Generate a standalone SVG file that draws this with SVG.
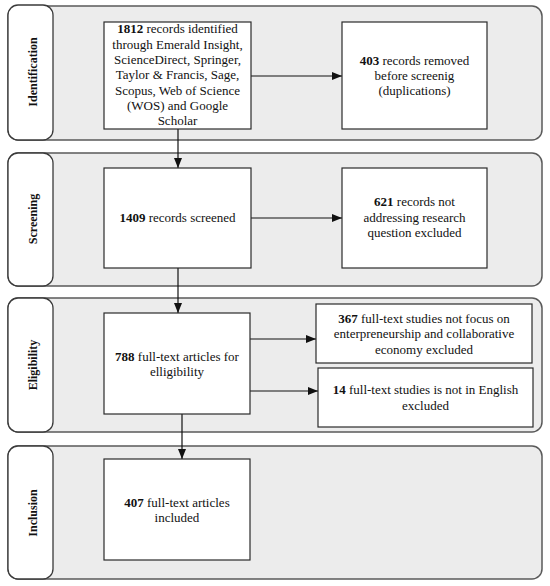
<svg xmlns="http://www.w3.org/2000/svg" width="550" height="586" viewBox="0 0 550 586">
<style>
.band{fill:#ececec;stroke:#5a5a5a;stroke-width:1.5}
.lab{fill:#fff;stroke:#3a3a3a;stroke-width:1.3}
.box{fill:#fff;stroke:#2a2a2a;stroke-width:1.2}
.t{font-size:13px;text-anchor:middle;fill:#111}
.l{font-size:12px;font-weight:bold;text-anchor:middle;fill:#111}
.c{fill:none;stroke:#111;stroke-width:1.2}
</style>
<defs>
<marker id="ah" viewBox="0 0 10 8" refX="10" refY="4" markerWidth="10" markerHeight="8" markerUnits="userSpaceOnUse" orient="auto">
<path d="M0,0 L10,4 L0,8 z" fill="#111"/>
</marker>
</defs>

<g font-family="Liberation Serif, DejaVu Serif, serif">
<g id="band-identification">
<rect class="band" x="8" y="6" width="534" height="134" rx="10"/>
<rect class="lab" x="8" y="5" width="45" height="135" rx="10"/>
<text class="l" transform="translate(37,72) rotate(-90)">Identification</text>
</g>
<g id="band-screening">
<rect class="band" x="8" y="153" width="534" height="133" rx="10"/>
<rect class="lab" x="8" y="153" width="45" height="133" rx="10"/>
<text class="l" transform="translate(37,219) rotate(-90)">Screening</text>
</g>
<g id="band-eligibility">
<rect class="band" x="8" y="298" width="534" height="134" rx="10"/>
<rect class="lab" x="8" y="298" width="45" height="134" rx="10"/>
<text class="l" transform="translate(37,365) rotate(-90)">Eligibility</text>
</g>
<g id="band-inclusion">
<rect class="band" x="8" y="446" width="534" height="133" rx="10"/>
<rect class="lab" x="8" y="446" width="45" height="133" rx="10"/>
<text class="l" transform="translate(37,513) rotate(-90)">Inclusion</text>
</g>

<g id="connectors">
<line class="c" x1="251" y1="76" x2="342" y2="76" marker-end="url(#ah)"/>
<line class="c" x1="178" y1="129" x2="178" y2="168" marker-end="url(#ah)"/>
<line class="c" x1="251" y1="218" x2="342" y2="218" marker-end="url(#ah)"/>
<line class="c" x1="178" y1="268" x2="178" y2="313" marker-end="url(#ah)"/>
<line class="c" x1="250" y1="339" x2="316" y2="339" marker-end="url(#ah)"/>
<line class="c" x1="250" y1="391" x2="318" y2="391" marker-end="url(#ah)"/>
<line class="c" x1="182" y1="414" x2="182" y2="459" marker-end="url(#ah)"/>
</g>

<g id="n1812">
<rect class="box" x="104" y="22" width="147" height="107"/>
<text class="t" x="177.5" y="33"><tspan font-weight="bold">1812</tspan> records identified</text>
<text class="t" x="177.5" y="48.5">through Emerald Insight,</text>
<text class="t" x="177.5" y="64">ScienceDirect, Springer,</text>
<text class="t" x="177.5" y="79">Taylor &amp; Francis, Sage,</text>
<text class="t" x="177.5" y="94.5">Scopus, Web of Science</text>
<text class="t" x="177.5" y="110">(WOS) and Google</text>
<text class="t" x="177.5" y="125">Scholar</text>
</g>
<g id="n403">
<rect class="box" x="342" y="22" width="145" height="107"/>
<text class="t" x="414.5" y="65"><tspan font-weight="bold">403</tspan> records removed</text>
<text class="t" x="414.5" y="80">before screenig</text>
<text class="t" x="414.5" y="95">(duplications)</text>
</g>
<g id="n1409">
<rect class="box" x="104" y="168" width="147" height="100"/>
<text class="t" x="177.5" y="222"><tspan font-weight="bold">1409</tspan> records screened</text>
</g>
<g id="n621">
<rect class="box" x="342" y="168" width="145" height="100"/>
<text class="t" x="414.5" y="206"><tspan font-weight="bold">621</tspan> records not</text>
<text class="t" x="414.5" y="222">addressing research</text>
<text class="t" x="414.5" y="237">question excluded</text>
</g>
<g id="n788">
<rect class="box" x="104" y="313" width="146" height="101"/>
<text class="t" x="177" y="361"><tspan font-weight="bold">788</tspan> full-text articles for</text>
<text class="t" x="177" y="376">elligibility</text>
</g>
<g id="n367">
<rect class="box" x="316" y="304" width="216" height="59"/>
<text class="t" x="424" y="323"><tspan font-weight="bold">367</tspan> full-text studies not focus on</text>
<text class="t" x="424" y="338">enterpreneurship and collaborative</text>
<text class="t" x="424" y="354">economy excluded</text>
</g>
<g id="n14">
<rect class="box" x="318" y="368" width="215" height="59"/>
<text class="t" x="425.5" y="394"><tspan font-weight="bold">14</tspan> full-text studies is not in English</text>
<text class="t" x="425.5" y="410">excluded</text>
</g>
<g id="n407">
<rect class="box" x="104" y="459" width="146" height="101"/>
<text class="t" x="177" y="507"><tspan font-weight="bold">407</tspan> full-text articles</text>
<text class="t" x="177" y="522">included</text>
</g>
</g>
</svg>
